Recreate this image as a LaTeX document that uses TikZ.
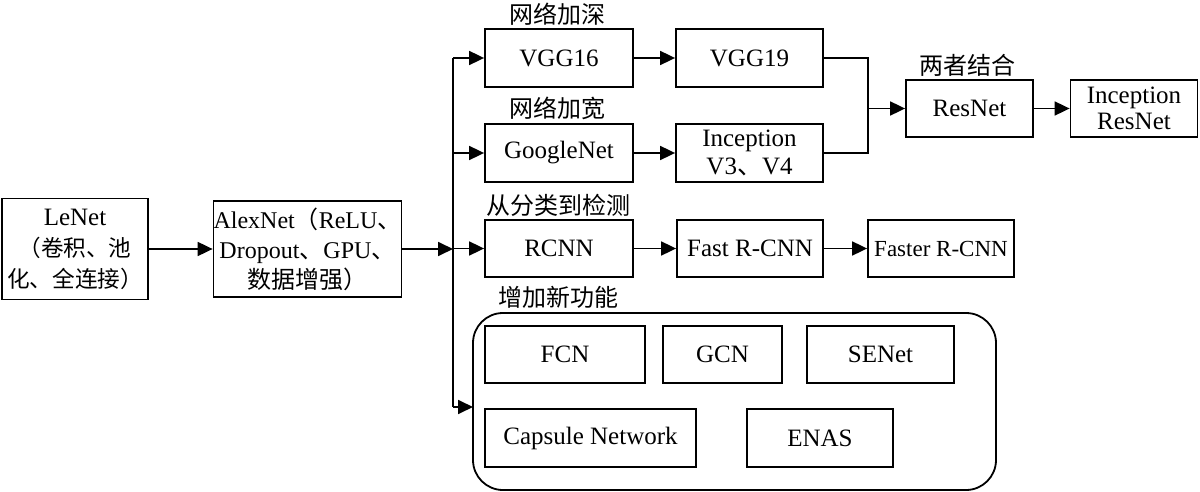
\documentclass[tikz,border=0pt]{standalone}
\usepackage{fontspec}
\setmainfont{Liberation Serif}
\newfontfamily\cjk{Noto Sans CJK SC}
\usetikzlibrary{arrows.meta}
\begin{document}
\begin{tikzpicture}[x=0.5pt,y=-0.5pt,
  box/.style={draw, line width=0.9pt, inner sep=0pt, align=center, font=\fontsize{12.5}{14}\selectfont},
  lbl/.style={inner sep=0pt, font=\cjk\fontsize{12}{14}\selectfont},
  arr/.style={line width=0.9pt, -{Triangle[length=7.5pt,width=7pt]}},
  ln/.style={line width=0.9pt}]
\useasboundingbox (0,0) rectangle (1200,492);

% left boxes
\node[box, minimum width=73pt, minimum height=50.5pt, font=\fontsize{12.5}{15.5}\selectfont] (lenet) at (75,249)
  {LeNet\\{\cjk\fontsize{11.3}{15.5}\selectfont （卷积、池}\\{\cjk\fontsize{11.3}{15.5}\selectfont 化、全连接）}};
\node[box, minimum width=92.5pt, minimum height=48pt, font=\fontsize{12}{15}\selectfont] (alex) at (307.5,249)
  {AlexNet{\cjk （}ReLU{\cjk 、}\\Dropout{\cjk 、}GPU{\cjk 、}\\{\cjk 数据增强）}};

% top rows
\node[box, minimum width=74pt, minimum height=29pt] (vgg16) at (559,58) {VGG16};
\node[box, minimum width=73.5pt, minimum height=29pt] (vgg19) at (749.5,58) {VGG19};
\node[box, minimum width=74pt, minimum height=29pt] (google) at (559,153) {GoogleNet};
\node[box, minimum width=73.5pt, minimum height=29pt] (incv) at (749.5,153) {Inception\\V3{\cjk 、}V4};
\node[box, minimum width=63.5pt, minimum height=28.5pt] (resnet) at (969.5,108.5) {ResNet};
\node[box, minimum width=63.5pt, minimum height=28.5pt, font=\fontsize{12.5}{13}\selectfont] (incres) at (1134,108.5) {Inception\\ResNet};

% detection row
\node[box, minimum width=74pt, minimum height=28.5pt] (rcnn) at (559,248.5) {RCNN};
\node[box, minimum width=73pt, minimum height=28.5pt] (fast) at (750,248.5) {Fast R-CNN};
\node[box, minimum width=73pt, minimum height=28.5pt, font=\fontsize{11.5}{14}\selectfont] (faster) at (941,248.5) {Faster R-CNN};

% new functions group
\node[draw, line width=0.9pt, rounded corners=15pt, minimum width=261.5pt, minimum height=88.5pt, inner sep=0pt] (grp) at (734.5,401.5) {};
\node[box, minimum width=80pt, minimum height=28.5pt] (fcn) at (565,354.5) {FCN};
\node[box, minimum width=59.5pt, minimum height=28.5pt] (gcn) at (722.5,354.5) {GCN};
\node[box, minimum width=73.5pt, minimum height=28.5pt] (senet) at (880.5,354.5) {SENet};
\node[box, minimum width=105.5pt, minimum height=29pt] (caps) at (590.5,438) {Capsule Network};
\node[box, minimum width=73pt, minimum height=29pt] (enas) at (820,438) {ENAS};

% labels
\node[lbl] (l1) at (557,14) {网络加深};
\node[lbl] (l2) at (557,108) {网络加宽};
\node[lbl] (l3) at (967,65) {两者结合};
\node[lbl] (l4) at (558,205) {从分类到检测};
\node[lbl] (l5) at (558,297) {增加新功能};

% connectors
\coordinate (J) at (453,249);
\coordinate (M) at (868,108.5);
\coordinate (gin) at (473,407);
\draw[arr] (lenet.east) -- (alex.west);
\draw[arr] (alex.east) -- (J);
\draw[ln] (J |- vgg16.west) -- (J |- gin);
\draw[arr] (J |- vgg16.west) -- (vgg16.west);
\draw[arr] (J |- google.west) -- (google.west);
\draw[arr] (J |- rcnn.west) -- (rcnn.west);
\draw[arr] (J |- gin) -- (gin);
\draw[arr] (vgg16) -- (vgg19);
\draw[arr] (google) -- (incv);
\draw[ln] (vgg19.east) -| (M) |- (incv.east);
\draw[arr] (M) -- (resnet.west);
\draw[arr] (resnet) -- (incres);
\draw[arr] (rcnn) -- (fast);
\draw[arr] (fast) -- (faster);
\end{tikzpicture}
\end{document}
